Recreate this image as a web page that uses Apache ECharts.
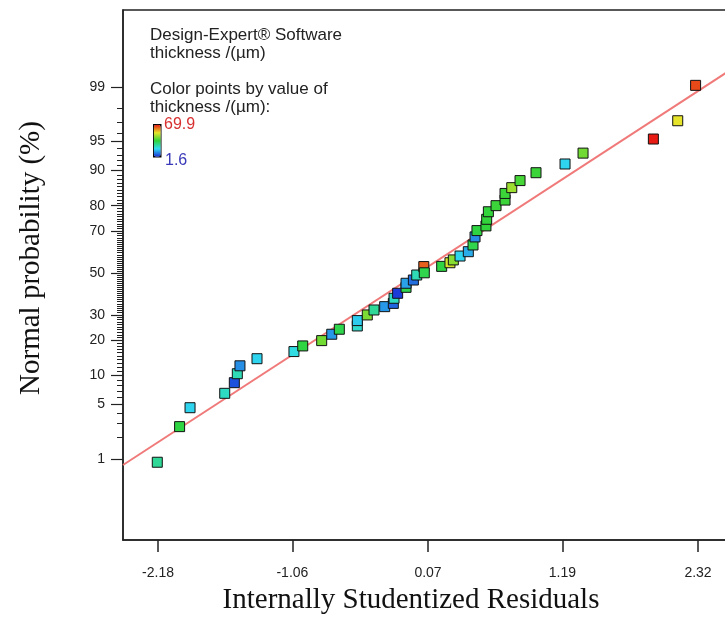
<!DOCTYPE html>
<html>
<head>
<meta charset="utf-8">
<script src="https://cdn.jsdelivr.net/npm/echarts@6/dist/echarts.min.js"></script>
<style>
  html, body { margin: 0; padding: 0; background: #fff; }
  #chart { width: 725px; height: 617px; }
</style>
</head>
<body>
<div id="chart"></div>
<script>
// residuals (x) and normal probability in % (y), thickness used for the colour
const residuals = [-2.186, -2.0, -1.913, -1.624, -1.544, -1.519, -1.497, -1.355, -1.047, -0.974,
  -0.816, -0.732, -0.669, -0.519, -0.519, -0.436, -0.38, -0.291, -0.219, -0.213,
  -0.183, -0.113, -0.113, -0.052, -0.024, 0.035, 0.039, 0.184, 0.253, 0.281,
  0.337, 0.406, 0.445, 0.462, 0.478, 0.553, 0.559, 0.573, 0.637, 0.712,
  0.712, 0.768, 0.837, 0.97, 1.212, 1.362, 1.948, 2.151, 2.30];
const probability = [0.9, 2.74, 4.61, 6.63, 8.52, 10.4, 12.3, 14.2, 16.3, 18.1,
  19.9, 22.2, 24.1, 25.4, 27.6, 30.0, 32.2, 33.7, 35.2, 37.6,
  40.0, 42.9, 44.9, 46.5, 49.0, 53.2, 50.1, 53.3, 55.1, 56.5,
  58.4, 60.5, 63.7, 67.4, 70.2, 72.2, 74.9, 77.8, 80.0, 81.9,
  84.0, 85.7, 87.6, 89.5, 91.35, 93.3, 95.3, 97.15, 99.05];
const thickness = [27, 35, 18, 23, 5, 24, 11, 18, 20, 35,
  42, 12, 34, 22, 17, 43, 27, 12, 7, 23,
  3, 34, 13, 8, 24, 64, 34, 35, 51, 44,
  18, 14, 34, 11, 35, 36, 36, 36, 37, 37,
  37, 46, 38, 37, 18, 42, 69.9, 53, 66];

// fitted normal line end points
const fitX = [-2.4717, 2.6283];
const fitProb = [0.82, 99.5];

const xTicks = [-2.18, -1.06, 0.07, 1.19, 2.32];
const probTicks = [1, 5, 10, 20, 30, 50, 70, 80, 90, 95, 99];
const minorProbTicks = [];
for (let p = 1; p <= 99; p++) minorProbTicks.push(p);

// inverse normal cdf (Acklam)
function probit(p) {
  const a = [-3.969683028665376e+01, 2.209460984245205e+02, -2.759285104469687e+02, 1.383577518672690e+02, -3.066479806614716e+01, 2.506628277459239e+00];
  const b = [-5.447609879822406e+01, 1.615858368580409e+02, -1.556989798598866e+02, 6.680131188771972e+01, -1.328068155327057e+01];
  const c = [-7.784894002430293e-03, -3.223964580411365e-01, -2.400758277161838e+00, -2.549671010422154e+00, 4.374664141464968e+00, 2.938163982698783e+00];
  const d = [7.784695709041462e-03, 3.224671290700398e-01, 2.445134137142996e+00, 3.754408661907416e+00];
  const plow = 0.02425;
  let q, r;
  if (p < plow) {
    q = Math.sqrt(-2 * Math.log(p));
    return (((((c[0]*q+c[1])*q+c[2])*q+c[3])*q+c[4])*q+c[5]) / ((((d[0]*q+d[1])*q+d[2])*q+d[3])*q+1);
  }
  if (p <= 1 - plow) {
    q = p - 0.5; r = q * q;
    return (((((a[0]*r+a[1])*r+a[2])*r+a[3])*r+a[4])*r+a[5])*q / (((((b[0]*r+b[1])*r+b[2])*r+b[3])*r+b[4])*r+1);
  }
  q = Math.sqrt(-2 * Math.log(1 - p));
  return -(((((c[0]*q+c[1])*q+c[2])*q+c[3])*q+c[4])*q+c[5]) / ((((d[0]*q+d[1])*q+d[2])*q+d[3])*q+1);
}
const z = (pct) => probit(pct / 100);

const points = residuals.map((x, i) => [x, z(probability[i]), thickness[i]]);
const fitLine = fitX.map((x, i) => [x, z(fitProb[i])]);
const majorZ = probTicks.map(z);
const minorZ = minorProbTicks.map(z);

const sans = "'Liberation Sans', Arial, sans-serif";
const serif = "'Liberation Serif', 'Times New Roman', serif";
const yMin = -3.3375, yMax = 3.2875;

const chart = echarts.init(document.getElementById("chart"));
chart.setOption({
  animation: false,
  backgroundColor: "#fff",
  grid: {
    left: 123, right: -10, top: 10, bottom: 77, outerBoundsMode: "none",
    show: true, borderColor: "#222", borderWidth: 1.5
  },
  xAxis: {
    type: "value", min: -2.4717, max: 2.6283,
    axisLine: { onZero: false, lineStyle: { color: "#222", width: 1.5 } },
    axisTick: { customValues: xTicks, length: 12, lineStyle: { color: "#222", width: 1.5 } },
    axisLabel: { customValues: xTicks, formatter: (v) => v.toFixed(2), fontFamily: sans, fontSize: 14, color: "#222", margin: 26 },
    splitLine: { show: false }
  },
  yAxis: [
    {
      type: "value", min: yMin, max: yMax,
      axisLine: { onZero: false, lineStyle: { color: "#222", width: 1.5 } },
      axisTick: { customValues: majorZ, length: 12, lineStyle: { color: "#222", width: 1.2 } },
      axisLabel: {
        customValues: majorZ, fontFamily: sans, fontSize: 14, color: "#222", margin: 18,
        formatter: (v) => { const i = majorZ.findIndex((m) => Math.abs(m - v) < 1e-6); return i >= 0 ? String(probTicks[i]) : ""; }
      },
      splitLine: { show: false }
    },
    {
      type: "value", min: yMin, max: yMax, position: "left",
      axisLine: { show: false, onZero: false },
      axisTick: { customValues: minorZ, length: 6, lineStyle: { color: "#222", width: 1 } },
      axisLabel: { show: false },
      splitLine: { show: false }
    }
  ],
  visualMap: {
    type: "continuous", seriesIndex: 0, dimension: 2,
    min: 1.6, max: 69.9, calculable: false,
    left: 153, top: 124, itemWidth: 7, itemHeight: 32, padding: 0,
    borderColor: "#000", borderWidth: 1.5, text: null, hoverLink: false,
    inRange: { color: ["#1a2ed8", "#30dcf0", "#2ed43a", "#e6e62a", "#e81a14"] }
  },
  graphic: [
    { type: "text", left: 150, top: 26, style: { text: "Design-Expert® Software\nthickness /(µm)", font: "17px " + sans, fill: "#222", lineHeight: 18 } },
    { type: "text", left: 150, top: 80, style: { text: "Color points by value of\nthickness /(µm):", font: "17px " + sans, fill: "#222", lineHeight: 18 } },
    { type: "text", left: 164, top: 117, style: { text: "69.9", font: "16px " + sans, fill: "#d83030" } },
    { type: "text", left: 165, top: 153, style: { text: "1.6", font: "16px " + sans, fill: "#3838b8" } },
    { type: "text", x: 31, y: 258, rotation: Math.PI / 2, style: { text: "Normal probability (%)", font: "29px " + serif, fill: "#111", align: "center", verticalAlign: "middle" } },
    { type: "text", x: 411, y: 600, style: { text: "Internally Studentized Residuals", font: "29px " + serif, fill: "#111", align: "center", verticalAlign: "middle" } }
  ],
  series: [
    {
      type: "scatter", data: points, symbol: "rect", symbolSize: 10, z: 3,
      itemStyle: { borderColor: "#111", borderWidth: 1, opacity: 1 }
    },
    {
      type: "line", data: fitLine, symbol: "none", z: 2, silent: true,
      lineStyle: { color: "#f07a7a", width: 2 }
    }
  ]
});
</script>
</body>
</html>
